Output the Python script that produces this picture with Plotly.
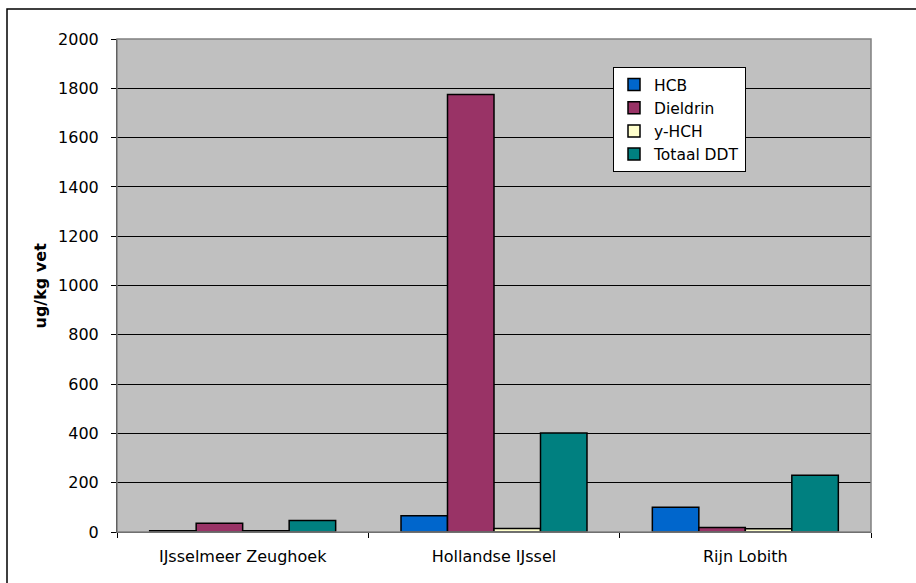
import plotly.graph_objects as go

# Locations (x-axis categories)
locations = ["IJsselmeer Zeughoek", "Hollandse IJssel", "Rijn Lobith"]

# Concentrations per compound, ug/kg fat
hcb = [5, 66, 100]
dieldrin = [35, 1775, 18]
y_hch = [5, 14, 13]
totaal_ddt = [47, 402, 230]

series_names = ["HCB", "Dieldrin", "y-HCH", "Totaal DDT"]
series_values = [hcb, dieldrin, y_hch, totaal_ddt]
series_colors = ["#0066CC", "#993366", "#FFFFCC", "#008080"]

y_ticks = list(range(0, 2001, 200))

FONT = "DejaVu Sans, Verdana, sans-serif"
FS = 16

fig = go.Figure()
for name, vals, col in zip(series_names, series_values, series_colors):
    fig.add_trace(go.Bar(
        name=name, x=locations, y=vals,
        marker=dict(color=col, line=dict(color="black", width=1.5)),
    ))

# plot area in pixels: x 117..871, y 39..532
L, R, T, B = 117, 871, 39, 532
W, H = R - L, B - T

def px(x):
    return (x - L) / W

def py(y):
    return (B - y) / H

fig.update_layout(
    width=916, height=583,
    margin=dict(l=L, r=916 - R, t=T, b=583 - B, pad=0),
    paper_bgcolor="white",
    plot_bgcolor="#C0C0C0",
    font=dict(family=FONT, size=FS, color="black"),
    barmode="group",
    bargap=0.26,
    bargroupgap=0,
    showlegend=True,
    legend=dict(
        x=px(613), y=py(67), xanchor="left", yanchor="top",
        bgcolor="white", bordercolor="black", borderwidth=1,
        font=dict(family=FONT, size=15.5),
        tracegroupgap=0,
    ),
    xaxis=dict(
        showgrid=False, ticks="outside", tickson="boundaries",
        ticklen=5, tickcolor="black", showline=True, linecolor="#404040",
        linewidth=1, tickfont=dict(family=FONT, size=FS),
        ticklabelstandoff=10,
    ),
    yaxis=dict(
        range=[0, 2000], tickvals=y_ticks, showgrid=True,
        gridcolor="black", gridwidth=1, zeroline=False,
        ticks="outside", ticklen=5, tickcolor="black",
        showline=True, linecolor="black", linewidth=1,
        tickfont=dict(family=FONT, size=FS), ticklabelstandoff=9,
    ),
    annotations=[dict(
        text="<b>ug/kg vet</b>", x=px(40), y=0.5, xref="paper", yref="paper",
        textangle=-90, showarrow=False, font=dict(family=FONT, size=FS),
        xanchor="center", yanchor="middle",
    )],
    shapes=[
        # grey frame around the plot area
        dict(type="rect", xref="paper", yref="paper", x0=0, y0=0, x1=1, y1=1,
             line=dict(color="#808080", width=1.5), layer="above"),
        # outer chart border
        dict(type="rect", xref="paper", yref="paper",
             x0=px(7), y0=py(595), x1=px(925), y1=py(9),
             line=dict(color="black", width=1.5)),
    ],
)

fig.write_html("out.html")
